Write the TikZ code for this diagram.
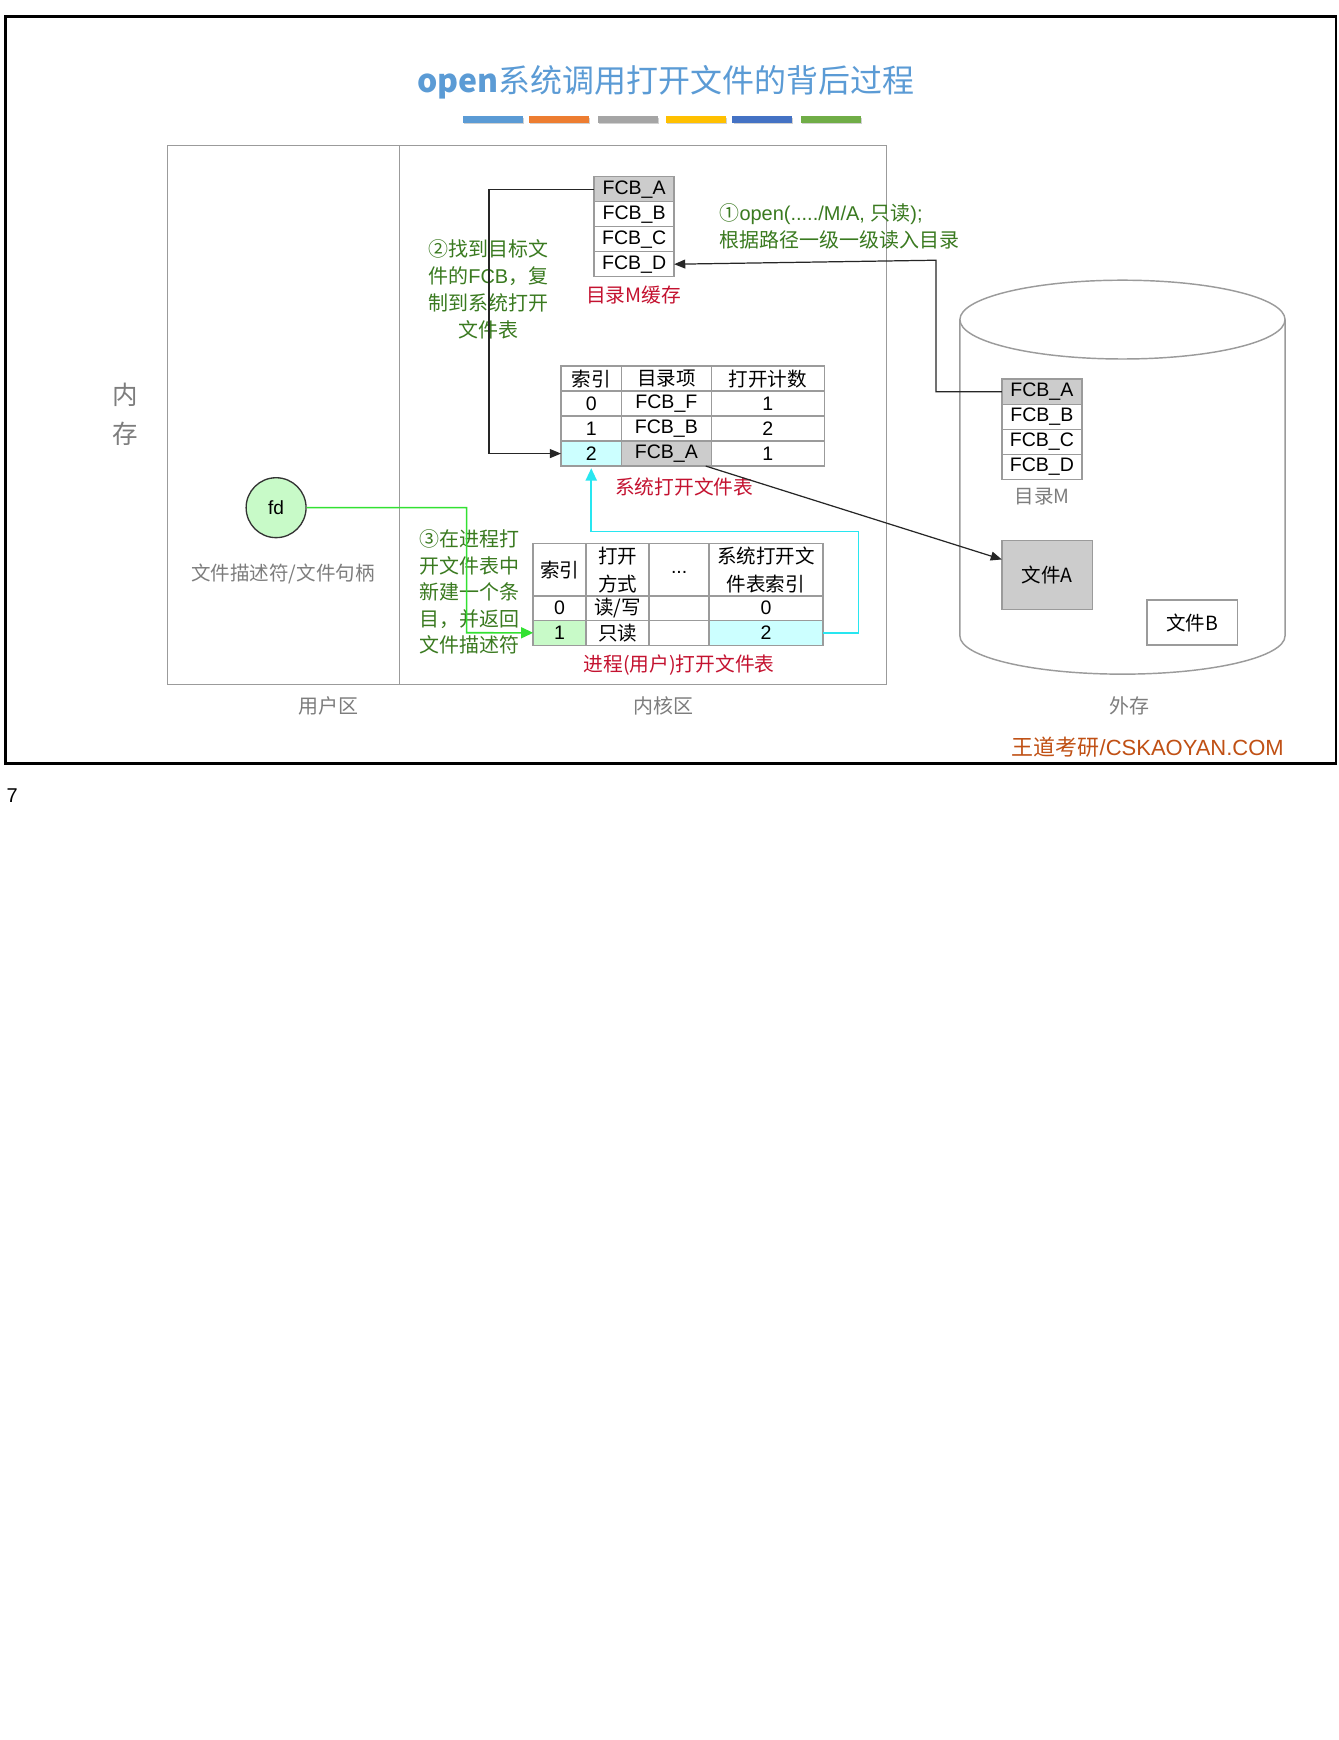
\documentclass[tikz,border=0pt]{standalone}
\usepackage{fontspec}
\setmainfont{Noto Sans CJK SC}
\newfontfamily\lat{Liberation Sans}
\usetikzlibrary{arrows.meta,calc}
\definecolor{titleblue}{RGB}{91,155,213}
\definecolor{barA}{RGB}{91,155,213}
\definecolor{barB}{RGB}{237,125,49}
\definecolor{barC}{RGB}{165,165,165}
\definecolor{barD}{RGB}{255,192,0}
\definecolor{barE}{RGB}{68,114,196}
\definecolor{barF}{RGB}{112,173,71}
\definecolor{anngreen}{RGB}{58,122,32}
\definecolor{labred}{RGB}{196,18,48}
\definecolor{txtgray}{RGB}{125,125,125}
\definecolor{bordgray}{RGB}{155,155,155}
\definecolor{fillgray}{RGB}{204,204,204}
\definecolor{cyanline}{RGB}{40,230,240}
\definecolor{cyanfill}{RGB}{204,255,255}
\definecolor{greenline}{RGB}{50,225,50}
\definecolor{greenfill}{RGB}{200,250,200}
\definecolor{brandbrown}{RGB}{192,80,20}
\newcommand\cellnode[7]{\node[cellst,fill=#6,minimum width={(#4-#2)*0.5pt},minimum height={(#5-#3)*0.5pt}] (#1) at ({(#2+#4)/2},{(#3+#5)/2}) {#7};}
\begin{document}
\begin{tikzpicture}[x=0.5pt,y=-0.5pt,
  cellst/.style={draw=bordgray,line width=0.65pt,rectangle,inner sep=0pt,outer sep=0pt,align=center,font=\fontsize{8.8}{12.8}\selectfont},
  arr/.style={-{Triangle[length=5pt,width=4pt]},line width=0.55pt,black!85},
  ann/.style={text=anngreen,font=\fontsize{9}{12.1}\selectfont,inner sep=0pt},
  redlab/.style={text=labred,font=\fontsize{8.9}{11}\selectfont,inner sep=0pt},
  graylab/.style={text=txtgray,font=\fontsize{8.8}{11}\selectfont,inner sep=0pt}]
\useasboundingbox (0,0) rectangle (1206,1568);
\fill[white] (0,0) rectangle (1206,1568);
% frame
\draw[line width=1.1pt] (5,15) rectangle (1204,688);
% title
\node[text=titleblue,font=\fontsize{14.4}{16}\selectfont,inner sep=0pt] (title) at (600,74.5) {\textbf{open}系统调用打开文件的背后过程};
% bars
\foreach \xa/\xb/\c in {417/471/barA,477/531/barB,539/593/barC,600/654/barD,660/714/barE,722/776/barF}{
  \fill[black!18] (\xa+1,106.5) rectangle (\xb+1,112);
  \fill[\c] (\xa,104.5) rectangle (\xb,110.5);
}
% memory box
\draw[draw=bordgray,line width=0.7pt] (151,131) rectangle (799,617);
\draw[draw=bordgray,line width=0.7pt] (360,131) -- (360,617);
\node[text=txtgray,font=\fontsize{11.5}{17.3}\selectfont,align=center,inner sep=0pt] (mem) at (112.7,373.3) {内\\存};
\node[graylab,font=\fontsize{9}{11}\selectfont] (userarea) at (295.7,636) {用户区};
\node[graylab,font=\fontsize{9}{11}\selectfont] (kernarea) at (597.6,636) {内核区};
\node[graylab,font=\fontsize{9}{11}\selectfont] (extarea) at (1017.7,636) {外存};
% cylinder
\draw[draw=bordgray,line width=0.65pt] (865,288) -- (865,573) arc[start angle=180,end angle=360,x radius=73.25pt,y radius=17.25pt] -- (1158,288);
\draw[draw=bordgray,line width=0.65pt] (1011.5,288) ellipse [x radius=73.25pt,y radius=17.75pt];
% directory M cache
\cellnode{dcA}{535.4}{159.2}{607.5}{181.8}{fillgray}{\lat FCB\_A}
\cellnode{dcB}{535.4}{181.8}{607.5}{204.3}{white}{\lat FCB\_B}
\cellnode{dcC}{535.4}{204.3}{607.5}{226.8}{white}{\lat FCB\_C}
\cellnode{dcD}{535.4}{226.8}{607.5}{249.4}{white}{\lat FCB\_D}
\node[redlab] (dclab) at (571,266) {目录M缓存};
% disk directory M
\cellnode{ddA}{902.8}{341.6}{975}{364.4}{fillgray}{\lat FCB\_A}
\cellnode{ddB}{902.8}{364.4}{975}{387}{white}{\lat FCB\_B}
\cellnode{ddC}{902.8}{387}{975}{409.5}{white}{\lat FCB\_C}
\cellnode{ddD}{902.8}{409.5}{975}{432}{white}{\lat FCB\_D}
\node[graylab] (ddlab) at (939,447.5) {目录M};
% files
\cellnode{fileA}{902.8}{487.3}{984.5}{549}{fillgray}{文件A}
\cellnode{fileB}{1033.5}{540.8}{1115}{581.4}{white}{文件B}
% system open file table
\cellnode{stHa}{505.6}{330}{560}{352.5}{white}{索引}
\cellnode{stHb}{560}{330}{641}{352.5}{white}{目录项}
\cellnode{stHc}{641}{330}{743}{352.5}{white}{打开计数}
\cellnode{st0a}{505.6}{352.5}{560}{375}{white}{\lat 0}
\cellnode{st0b}{560}{352.5}{641}{375}{white}{\lat FCB\_F}
\cellnode{st0c}{641}{352.5}{743}{375}{white}{\lat 1}
\cellnode{st1a}{505.6}{375}{560}{397.5}{white}{\lat 1}
\cellnode{st1b}{560}{375}{641}{397.5}{white}{\lat FCB\_B}
\cellnode{st1c}{641}{375}{743}{397.5}{white}{\lat 2}
\cellnode{st2a}{505.6}{397.5}{560}{420}{cyanfill}{\lat 2}
\cellnode{st2b}{560}{397.5}{641}{420}{fillgray}{\lat FCB\_A}
\cellnode{st2c}{641}{397.5}{743}{420}{white}{\lat 1}
\node[redlab] (stlab) at (616.5,438.5) {系统打开文件表};
% process open file table
\cellnode{ptHa}{480.5}{490}{528}{537}{white}{索引}
\cellnode{ptHb}{528}{490}{585}{537}{white}{打开\\方式}
\cellnode{ptHc}{585}{490}{639}{537}{white}{\raisebox{-3pt}{\lat ...}}
\cellnode{ptHd}{639}{490}{741.5}{537}{white}{系统打开文\\件表索引}
\cellnode{pt0a}{480.5}{537}{528}{559}{white}{\lat 0}
\cellnode{pt0b}{528}{537}{585}{559}{white}{读/写}
\cellnode{pt0c}{585}{537}{639}{559}{white}{}
\cellnode{pt0d}{639}{537}{741.5}{559}{white}{\lat 0}
\cellnode{pt1a}{480.5}{559}{528}{581.5}{greenfill}{\lat 1}
\cellnode{pt1b}{528}{559}{585}{581.5}{white}{只读}
\cellnode{pt1c}{585}{559}{639}{581.5}{white}{}
\cellnode{pt1d}{639}{559}{741.5}{581.5}{cyanfill}{\lat 2}
\node[redlab] (ptlab) at (612,599.5) {进程(用户)打开文件表};
% fd
\node[circle,draw=black!80,fill=greenfill,line width=0.6pt,minimum size=27pt,inner sep=0pt,font=\lat\fontsize{8.6}{10}\selectfont] (fd) at (248.8,457.5) {fd};
\node[graylab] (fdlab) at (255,517) {文件描述符/文件句柄};
% annotations
\node[ann,anchor=west,align=left] (ann1) at (648,204) {①{\lat open(...../M/A, }只读{\lat );}\\根据路径一级一级读入目录};
\node[ann,align=center] (ann2) at (440,260.5) {②找到目标文\\件的{\lat FCB}，复\\制到系统打开\\文件表};
\node[ann,anchor=west,align=left,font=\fontsize{9}{11.9}\selectfont] (ann3) at (377.5,533.5) {③在进程打\\开文件表中\\新建一个条\\目，并返回\\文件描述符};
% connectors
\coordinate (c1) at (843.4,234.5);
\draw[arr] (ddA.west) -| (c1) -- (dcD.east);
\coordinate (c2) at (440.7,300);
\draw[arr] (dcA.west) -- (dcA.west -| c2) |- (st2a.west);
\draw[arr] ($(st2b.south east)+(-5,0)$) -- ($(fileA.west)+(0,-14)$);
\coordinate (c3) at (420.5,570.2);
\draw[-{Triangle[length=5.5pt,width=5pt]},line width=0.7pt,greenline] (fd.east) -| (c3) -- (pt1a.west);
\coordinate (c4) at (773.6,479);
\draw[-{Triangle[length=5.5pt,width=5pt]},line width=0.7pt,cyanline] (pt1d.east) -| (c4) -| ($(st2a.south)+(0,2)$);
% brand and page number
\node[text=brandbrown,font=\fontsize{9.9}{11}\selectfont,inner sep=0pt] (brand) at (1034.3,673) {王道考研{\lat /CSKAOYAN.COM}};
\node[font=\lat\fontsize{9}{11}\selectfont,inner sep=0pt] (pagenum) at (11,717) {7};
\end{tikzpicture}
\end{document}
